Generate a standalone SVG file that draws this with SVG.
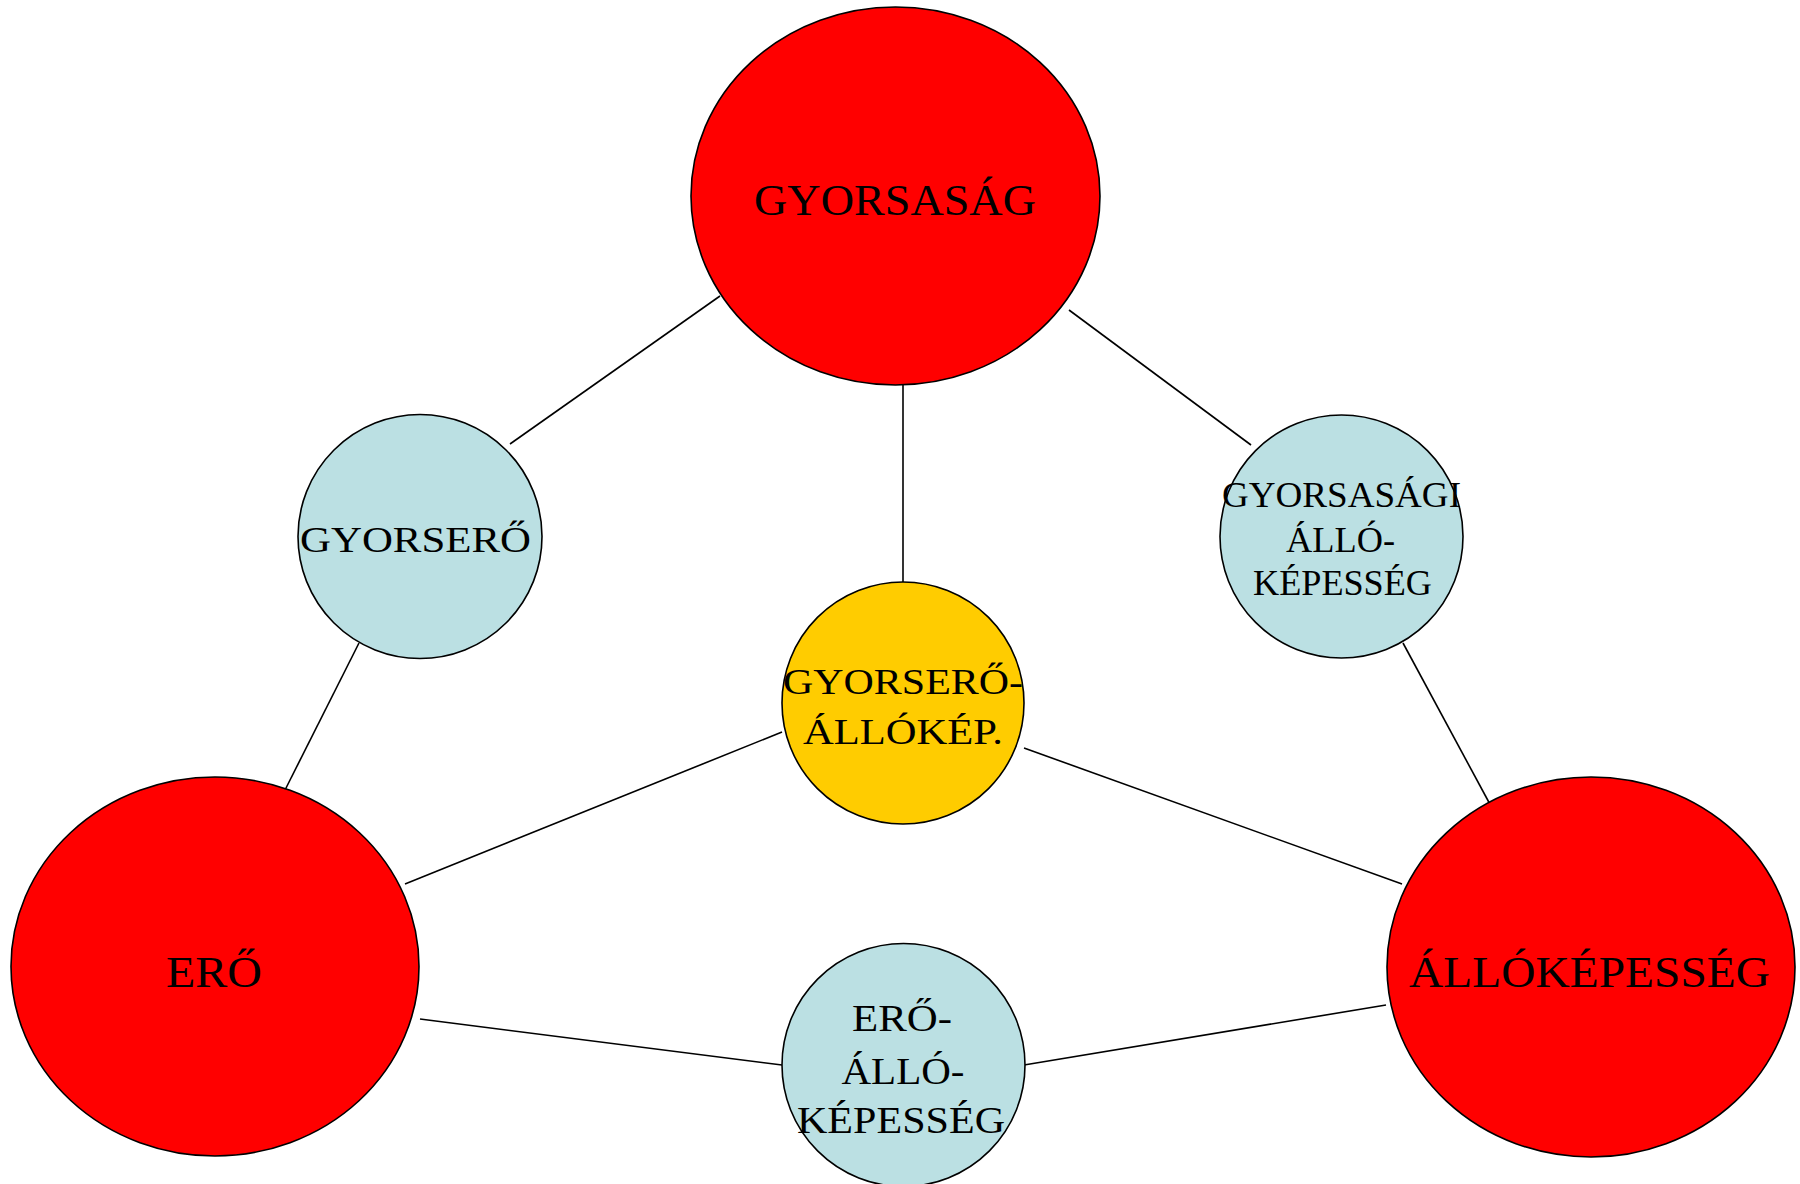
<svg xmlns="http://www.w3.org/2000/svg" width="1800" height="1184" viewBox="0 0 1800 1184">
<style>
.red{fill:#FF0000;stroke:#000;stroke-width:1.6}
.blue{fill:#BBE0E3;stroke:#000;stroke-width:1.6}
.yellow{fill:#FFCC00;stroke:#000;stroke-width:1.6}
.conn line{stroke:#000;stroke-width:1.6}
text{font-family:"Liberation Serif","Times New Roman",serif;fill:#000;text-anchor:middle}
</style>
<rect width="1800" height="1184" fill="#fff"/>
<g id="connectors" class="conn">
<line x1="720" y1="296" x2="510" y2="444"/>
<line x1="903" y1="385" x2="903" y2="582"/>
<line x1="1069" y1="310" x2="1251" y2="445"/>
<line x1="359" y1="643" x2="284" y2="792"/>
<line x1="1403" y1="643" x2="1492" y2="808"/>
<line x1="405" y1="884" x2="782" y2="732"/>
<line x1="1024" y1="748" x2="1402" y2="884"/>
<line x1="420" y1="1019" x2="782" y2="1065"/>
<line x1="1024" y1="1065" x2="1386" y2="1005"/>
</g>
<g id="gyorsasag">
<ellipse class="red" cx="895.5" cy="196" rx="204.5" ry="189"/>
<text x="895" y="215" font-size="45" textLength="282" lengthAdjust="spacingAndGlyphs">GYORSASÁG</text>
</g>
<g id="ero">
<ellipse class="red" cx="215" cy="966.5" rx="204" ry="189.5"/>
<text x="214" y="987" font-size="45" textLength="96" lengthAdjust="spacingAndGlyphs">ERŐ</text>
</g>
<g id="allokepesseg">
<ellipse class="red" cx="1591" cy="967" rx="204" ry="190"/>
<text x="1589.5" y="987" font-size="45" textLength="361" lengthAdjust="spacingAndGlyphs">ÁLLÓKÉPESSÉG</text>
</g>
<g id="gyorsero">
<circle class="blue" cx="420" cy="536.5" r="122"/>
<text x="415.5" y="552" font-size="36" textLength="231" lengthAdjust="spacingAndGlyphs">GYORSERŐ</text>
</g>
<g id="gyorsasagi-allokepesseg">
<circle class="blue" cx="1341.5" cy="536.5" r="121.5"/>
<text x="1341.5" y="507" font-size="35" textLength="239" lengthAdjust="spacingAndGlyphs">GYORSASÁGI</text>
<text x="1340.5" y="552" font-size="35" textLength="109" lengthAdjust="spacingAndGlyphs">ÁLLÓ-</text>
<text x="1342.5" y="595" font-size="35" textLength="179" lengthAdjust="spacingAndGlyphs">KÉPESSÉG</text>
</g>
<g id="gyorsero-allokep">
<circle class="yellow" cx="903" cy="703" r="121"/>
<text x="903" y="694" font-size="36" textLength="240" lengthAdjust="spacingAndGlyphs">GYORSERŐ-</text>
<text x="903" y="744" font-size="36" textLength="200" lengthAdjust="spacingAndGlyphs">ÁLLÓKÉP.</text>
</g>
<g id="ero-allokepesseg">
<circle class="blue" cx="903.5" cy="1065" r="121.5"/>
<text x="902" y="1031" font-size="38" textLength="100" lengthAdjust="spacingAndGlyphs">ERŐ-</text>
<text x="903" y="1084" font-size="38" textLength="123" lengthAdjust="spacingAndGlyphs">ÁLLÓ-</text>
<text x="901" y="1133" font-size="38" textLength="208" lengthAdjust="spacingAndGlyphs">KÉPESSÉG</text>
</g>
</svg>
